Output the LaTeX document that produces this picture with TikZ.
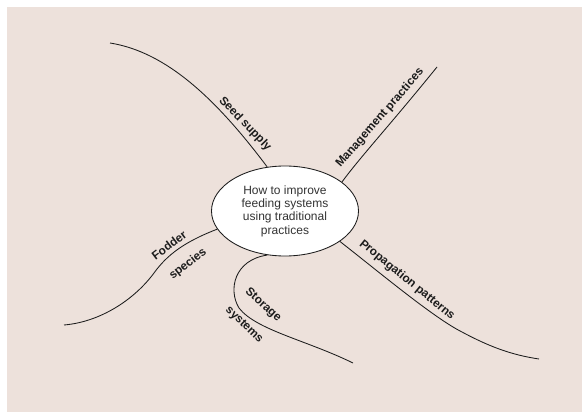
\documentclass[tikz,border=0pt]{standalone}
\usepackage{fontspec}
\setmainfont{Liberation Sans}
\usetikzlibrary{shapes.geometric}
\definecolor{bgc}{RGB}{237,225,219}
\definecolor{ink}{RGB}{28,28,28}
\tikzset{
  branch/.style={draw=ink, line width=0.85pt},
  lbl/.style={font=\fontsize{11.8}{13}\selectfont\bfseries, text=ink, inner sep=0pt},
  hub/.style={ellipse, draw=ink, line width=0.85pt, fill=white, minimum width=147pt, minimum height=90pt, inner sep=0pt, align=center, font=\fontsize{12}{13.4}\selectfont, text=ink!90}
}
\begin{document}
\begin{tikzpicture}[x=1pt,y=-1pt]
\useasboundingbox (0,0) rectangle (582,412);
\fill[white] (0,0) rectangle (582,412);
\fill[bgc] (7,7) rectangle (582,412);
\node[hub] (c) at (285,211) {How to improve\\feeding systems\\using traditional\\practices};
% Seed supply
\coordinate (s0) at (110,43);
\draw[branch] (c.112.9) .. controls (217,100) and (167,52) .. (s0);
\node[lbl, rotate=-46] (ls) at (245,124) {Seed supply};
% Management practices
\coordinate (m0) at (437,67);
\draw[branch] (c.27.8) .. controls (362,155) and (390,125) .. (m0);
\node[lbl, rotate=49] (lm) at (380,118) {Management practices};
% Fodder species
\coordinate (f1) at (154,273);
\coordinate (f0) at (64,325);
\draw[branch] (c.195.6) .. controls (184,242) and (167,255) .. (f1) .. controls (134,300) and (100,322) .. (f0);
\node[lbl, rotate=37] (lf1) at (169,245) {Fodder};
\node[lbl, rotate=38] (lf2) at (188,264) {species};
% Storage systems
\coordinate (t1) at (239,308);
\coordinate (t0) at (353,363);
\draw[branch] (c.248) .. controls (234,260) and (228,290) .. (t1) .. controls (256,330) and (306,340) .. (t0);
\node[lbl, rotate=-42] (lt1) at (263,305) {Storage};
\node[lbl, rotate=-44] (lt2) at (244,325) {systems};
% Propagation patterns
\coordinate (p1) at (462,332);
\coordinate (p0) at (539,359);
\draw[branch] (c.331.5) .. controls (379,272) and (434,318) .. (p1) .. controls (490,347) and (512,355) .. (p0);
\node[lbl, rotate=-39] (lp) at (407,280) {Propagation patterns};
\end{tikzpicture}
\end{document}
